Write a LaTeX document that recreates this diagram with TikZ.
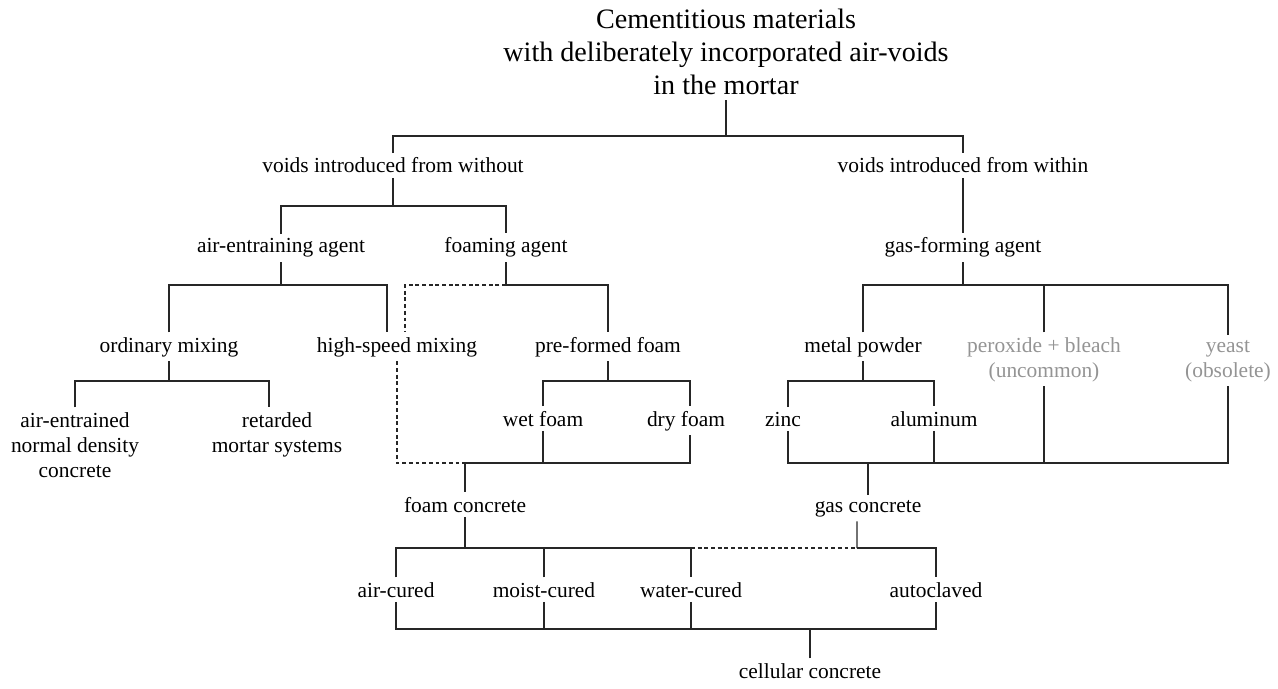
\documentclass[tikz,border=0pt]{standalone}
\usepackage{fontspec}
\setmainfont{Liberation Serif}
\begin{document}
\begin{tikzpicture}[x=0.02cm,y=-0.02cm,
    every text node part/.style={align=center},
    every node/.style={anchor=base,inner sep=2.5pt,font=\fontsize{12.2}{14.2}\selectfont},
    rare/.style={text=black!42},
    conn/.style={draw=black!85,line width=0.7pt},
    opt/.style={conn,dash pattern=on 2.2pt off 1.6pt}]
  \useasboundingbox (0,0) rectangle (1278,689);

  % multi-line nodes sit on the baseline of their last line
  \node[font=\fontsize{16}{19}\selectfont] (Title) at (726,95) {Cementitious materials\\with deliberately incorporated air-voids\\in the mortar};

  \node (VoidsOut)     at (393,173) {voids introduced from without};
  \node (VoidsIn)      at (963,173) {voids introduced from within};

  \node (AirAgent)     at (281,253) {air-entraining agent};
  \node (FoamAgent)    at (506,253) {foaming agent};
  \node (GasAgent)     at (963,253) {gas-forming agent};

  \node (OrdMix)       at (169,352) {ordinary mixing};
  \node (HighSpeed)    at (397,352) {high-speed mixing};
  \node (PreFoam)      at (608,352) {pre-formed foam};
  \node (MetalPowder)  at (863,352) {metal powder};
  \node[rare] (Peroxide) at (1044,377) {peroxide + bleach\\(uncommon)};
  \node[rare] (Yeast)  at (1228,377) {yeast\\(obsolete)};

  \node (AirEntrained) at (75,477)  {air-entrained\\normal density\\concrete};
  \node (Retarded)     at (277,452) {retarded\\mortar systems};
  \node (WetFoam)      at (543,426) {wet foam};
  \node (DryFoam)      at (686,426) {dry foam};
  \node (Zinc)         at (783,426) {zinc};
  \node (Aluminum)     at (934,426) {aluminum};

  \node (FoamConcrete) at (465,512) {foam concrete};
  \node (GasConcrete)  at (868,512) {gas concrete};

  \node (AirCured)     at (396,597) {air-cured};
  \node (MoistCured)   at (544,597) {moist-cured};
  \node (WaterCured)   at (691,597) {water-cured};
  \node (Autoclaved)   at (936,597) {autoclaved};

  \node (Cellular)     at (810,678) {cellular concrete};

  \coordinate (TitleJ)  at (726,136);
  \coordinate (OutJ)    at (393,206);
  \coordinate (AirJ)    at (281,285);
  \coordinate (FoamJ)   at (506,285);
  \coordinate (GasJ)    at (963,285);
  \coordinate (OrdJ)    at (169,381);
  \coordinate (PreJ)    at (608,381);
  \coordinate (MetJ)    at (863,381);
  \coordinate (FoamCJ)  at (465,463);
  \coordinate (GasCJ)   at (868,463);
  \coordinate (CureJ)   at (465,548);
  \coordinate (GasCureJ) at (857,548);
  \coordinate (CellJ)   at (810,629);

  \draw[conn] (Title.south) -- (TitleJ);
  \draw[conn] (VoidsOut.north) |- (TitleJ) -| (VoidsIn.north);

  \draw[conn] (VoidsOut.south) -- (OutJ);
  \draw[conn] (AirAgent.north) |- (OutJ) -| (FoamAgent.north);
  \draw[conn] (VoidsIn.south) -- (GasAgent.north);

  \draw[conn] (AirAgent.south) -- (AirJ);
  \draw[conn] (OrdMix.north) |- (AirJ) -| ([xshift=-0.2cm]HighSpeed.north);
  \draw[conn] (FoamAgent.south) -- (FoamJ) -| (PreFoam.north);
  \draw[opt]  (FoamJ) -| ([xshift=0.16cm]HighSpeed.north);
  \draw[conn] (GasAgent.south) -- (GasJ);
  \draw[conn] (MetalPowder.north) |- (GasJ) -| (Yeast.north);
  \draw[conn] (Peroxide.north) -- (Peroxide.north |- GasJ);

  \draw[conn] (OrdMix.south) -- (OrdJ);
  \draw[conn] (AirEntrained.north) |- (OrdJ) -| ([xshift=-0.16cm]Retarded.north);
  \draw[conn] (PreFoam.south) -- (PreJ);
  \draw[conn] (WetFoam.north) |- (PreJ) -| ([xshift=0.08cm]DryFoam.north);
  \draw[conn] (MetalPowder.south) -- (MetJ);
  \draw[conn] ([xshift=0.1cm]Zinc.north) |- (MetJ) -| (Aluminum.north);

  \draw[opt]  (HighSpeed.south) |- (FoamCJ);
  \draw[conn] ([xshift=0.08cm]DryFoam.south) |- (FoamCJ) -- (FoamConcrete.north);
  \draw[conn] (WetFoam.south) -- (WetFoam.south |- FoamCJ);
  \draw[conn] ([xshift=0.1cm]Zinc.south) |- (Yeast.south |- GasCJ) -- (Yeast.south);
  \draw[conn] (Aluminum.south) -- (Aluminum.south |- GasCJ);
  \draw[conn] (Peroxide.south) -- (Peroxide.south |- GasCJ);
  \draw[conn] (GasCJ) -- (GasConcrete.north);

  \draw[conn] (FoamConcrete.south) -- (CureJ);
  \draw[conn] (AirCured.north) |- (WaterCured.north |- CureJ) -- (WaterCured.north);
  \draw[conn] (MoistCured.north) -- (MoistCured.north |- CureJ);
  \draw[opt]  (WaterCured.north |- CureJ) -- (GasCureJ);
  \draw[conn] (GasCureJ) -| (Autoclaved.north);
  \draw[conn] ([xshift=-0.22cm]GasConcrete.south) -- (GasCureJ);

  \draw[conn] (AirCured.south) |- (Autoclaved.south |- CellJ) -- (Autoclaved.south);
  \draw[conn] (MoistCured.south) -- (MoistCured.south |- CellJ);
  \draw[conn] (WaterCured.south) -- (WaterCured.south |- CellJ);
  \draw[conn] (Cellular.north) -- (CellJ);
\end{tikzpicture}
\end{document}
